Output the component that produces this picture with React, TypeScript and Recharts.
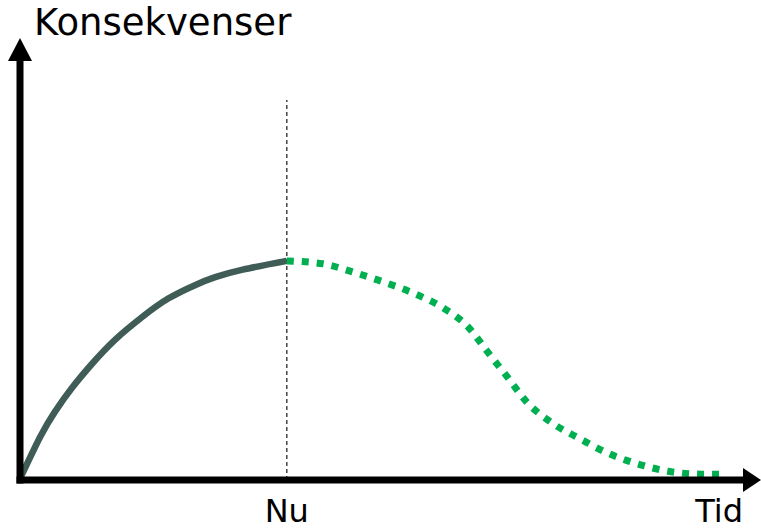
import React from "react";
import {
  ComposedChart,
  Line,
  XAxis,
  YAxis,
  ReferenceLine,
  ReferenceDot,
  Customized,
} from "recharts";

// historical consequences (solid) up to "Nu"
const pastTime = [0, 2.8, 4.8, 7.2, 10.0, 13.1, 16.9, 20.5, 24.2, 27.0, 30.8, 36.9];
const pastValue = [0.3, 10.3, 16.2, 22.0, 27.8, 33.4, 38.9, 43.3, 46.5, 48.4, 50.2, 52.3];

// expected consequences (dotted) after "Nu"
const futureTime = [36.9, 41.9, 46.1, 50.2, 54.4, 58.5, 62.0, 64.7, 67.4, 70.1, 73.6, 77.5, 81.3, 85.5, 89.6, 94.3, 97.1];
const futureValue = [52.3, 51.6, 49.6, 47.3, 44.6, 41.1, 36.5, 30.5, 24.6, 18.6, 13.6, 9.8, 6.4, 3.8, 2.1, 1.4, 1.4];

const nuTime = 36.9;
const nuLineTop = 90.7;
const tidTime = 96.7;
const tickLabels: Record<number, string> = { [nuTime]: "Nu", [tidTime]: "Tid" };

const past = pastTime.map((t, i) => ({ t, v: pastValue[i] }));
const future = futureTime.map((t, i) => ({ t, v: futureValue[i] }));

const font = "DejaVu Sans, Verdana, sans-serif";

const ArrowRight = (p: any) => (
  <polygon
    points={`${p.cx},${p.cy - 12} ${p.cx + 18},${p.cy} ${p.cx},${p.cy + 12}`}
    fill="#000"
  />
);

const ArrowUp = (p: any) => (
  <polygon
    points={`${p.cx - 12},${p.cy} ${p.cx},${p.cy - 23} ${p.cx + 12},${p.cy}`}
    fill="#000"
  />
);

const Tick = (p: any) => (
  <text
    x={p.x}
    y={522}
    textAnchor="middle"
    fontSize={32}
    fontFamily={font}
    fill="#000"
  >
    {tickLabels[p.payload.value]}
  </text>
);

const Title = () => (
  <text x={34} y={35} fontSize={37} fontFamily={font} fill="#000">
    Konsekvenser
  </text>
);

export default function App() {
  return (
    <div style={{ position: "absolute", left: 0, top: 0, background: "#fff" }}>
      <ComposedChart
        width={761}
        height={529}
        margin={{ top: 61, right: 18, bottom: 48, left: 20 }}
      >
        <XAxis
          type="number"
          dataKey="t"
          domain={[0, 100]}
          ticks={[nuTime, tidTime]}
          tick={<Tick />}
          tickLine={false}
          axisLine={false}
          height={1}
          allowDataOverflow
        />
        <YAxis type="number" domain={[0, 100]} hide allowDataOverflow />
        <ReferenceLine
          segment={[
            { x: nuTime, y: 0 },
            { x: nuTime, y: nuLineTop },
          ]}
          stroke="#444"
          strokeWidth={1.5}
          strokeDasharray="4 3"
        />
        <Line
          data={past}
          dataKey="v"
          type="natural"
          stroke="#405c56"
          strokeWidth={6.5}
          dot={false}
          isAnimationActive={false}
        />
        <Line
          data={future}
          dataKey="v"
          type="monotone"
          stroke="#00b050"
          strokeWidth={7}
          strokeDasharray="7 8"
          dot={false}
          isAnimationActive={false}
        />
        <ReferenceLine y={0} stroke="#000" strokeWidth={7} strokeLinecap="square" />
        <ReferenceLine x={0} stroke="#000" strokeWidth={7} strokeLinecap="square" />
        <ReferenceDot x={100} y={0} r={0} shape={ArrowRight} ifOverflow="visible" />
        <ReferenceDot x={0} y={100} r={0} shape={ArrowUp} ifOverflow="visible" />
        <Customized component={<Title />} />
      </ComposedChart>
    </div>
  );
}
